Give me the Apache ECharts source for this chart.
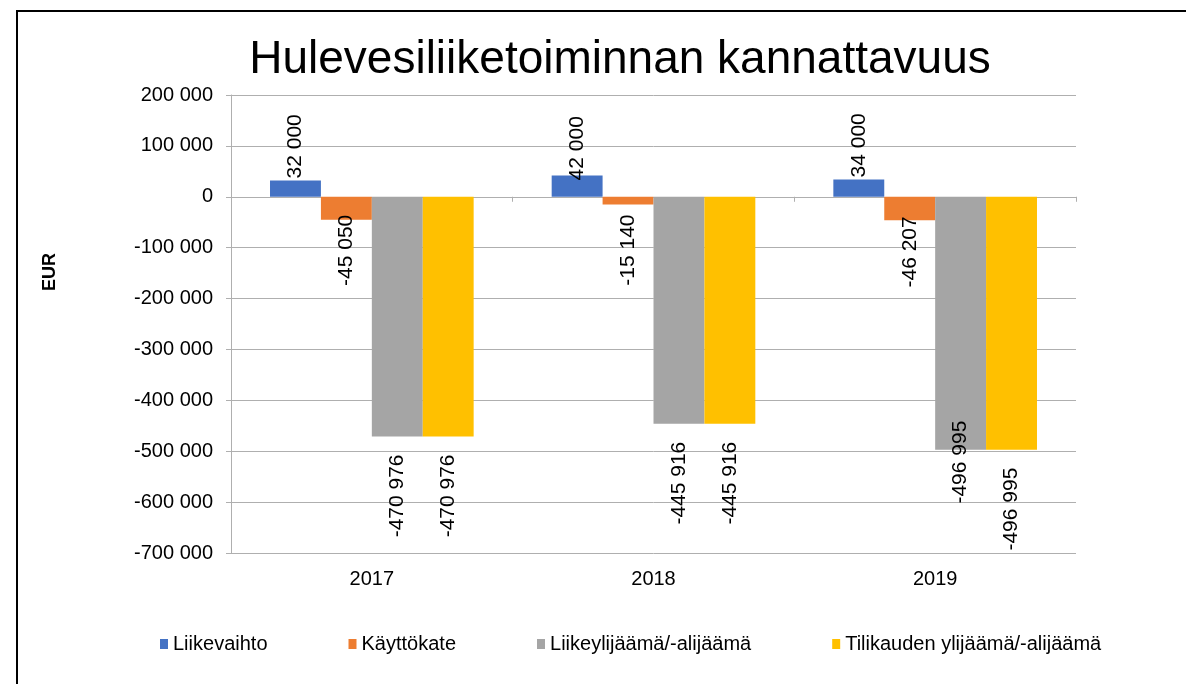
<!DOCTYPE html>
<html>
<head>
<meta charset="utf-8">
<script src="https://cdn.jsdelivr.net/npm/echarts@6/dist/echarts.min.js"></script>
<style>
    body { margin: 0; background: #fff; overflow: hidden; }
    #chart { position: absolute; left: 0; top: 0; width: 1186px; height: 684px; }
    #frame { position: absolute; left: 16px; top: 10px; width: 1300px; height: 800px;
             border-top: 2px solid #000; border-left: 2px solid #000; pointer-events: none; }
</style>
</head>
<body>
<div id="chart"></div>
<div id="frame"></div>
<script>
var years = ['2017', '2018', '2019'];
var seriesNames = ['Liikevaihto', 'Käyttökate', 'Liikeylijäämä/-alijäämä', 'Tilikauden ylijäämä/-alijäämä'];
var liikevaihto = [32000, 42000, 34000];
var kayttokate = [-45050, -15140, -46207];
var liikeylijaama = [-470976, -445916, -496995];
var tilikauden = [-470976, -445916, -496995];
var yMin = -700000;
var yMax = 200000;
var yStep = 100000;

var colors = ['#4472C4', '#ED7D31', '#A5A5A5', '#FFC000'];
// how far each rotated label sits from the bar end (Excel moved some of them around)
var labelNudge = [[2, -5, 2], [-5, 10, -4], [18, 18, -29], [18, 18, 18]];

var font = '"Liberation Sans", Arial, sans-serif';
var gridColor = '#afafaf';

function fmt(v) {
    var s = Math.abs(v).toString().replace(/\B(?=(\d{3})+(?!\d))/g, ' ');
    return (v < 0 ? '-' : '') + s;
}

function buildSeries(name, values, idx) {
    var data = values.map(function (v, i) {
        var up = v >= 0;
        return {
            value: v,
            label: {
                position: up ? 'top' : 'bottom',
                align: up ? 'left' : 'right',
                distance: labelNudge[idx][i]
            }
        };
    });
    return {
        name: name,
        type: 'bar',
        xAxisIndex: 0,
        barGap: '0%',
        barCategoryGap: '27.7%',
        itemStyle: { color: colors[idx] },
        label: {
            show: true,
            rotate: 90,
            verticalAlign: 'middle',
            fontFamily: font,
            fontSize: 21,
            color: '#000',
            formatter: function (p) { return fmt(p.value); }
        },
        data: data
    };
}

var chart = echarts.init(document.getElementById('chart'));

var option = {
    animation: false,
    title: {
        text: 'Hulevesiliiketoiminnan kannattavuus',
        left: 615,
        textAlign: 'center',
        top: 32,
        textStyle: { fontFamily: font, fontSize: 46, fontWeight: 'normal', color: '#000' }
    },
    legend: {
        data: seriesNames,
        left: 155,
        top: 629,
        icon: 'rect',
        itemWidth: 8,
        itemHeight: 10,
        itemGap: 81,
        textStyle: { fontFamily: font, fontSize: 20, color: '#000' }
    },
    grid: { left: 231, right: 110, top: 95, bottom: 131 },
    xAxis: [{
        type: 'category',
        data: years,
        axisLine: { onZero: true, lineStyle: { color: gridColor } },
        axisTick: { show: true, length: 5, lineStyle: { color: gridColor } },
        axisLabel: { show: false },
        splitLine: { show: false }
    }, {
        type: 'category',
        data: years,
        position: 'bottom',
        axisLine: { show: false, onZero: false },
        axisTick: { show: false },
        axisLabel: { margin: 16, fontFamily: font, fontSize: 20, color: '#000' },
        splitLine: { show: false }
    }],
    yAxis: {
        type: 'value',
        min: yMin,
        max: yMax,
        interval: yStep,
        axisLine: { show: true, lineStyle: { color: gridColor } },
        axisTick: { show: true, length: 5, lineStyle: { color: gridColor } },
        splitLine: { lineStyle: { color: gridColor } },
        axisLabel: { margin: 18, fontFamily: font, fontSize: 20, color: '#000', formatter: fmt }
    },
    graphic: [{
        type: 'text',
        x: 50,
        y: 272,
        rotation: Math.PI / 2,
        style: { text: 'EUR', align: 'center', verticalAlign: 'middle',
                 font: 'bold 18px "Liberation Sans", Arial, sans-serif', fill: '#000' }
    }],
    series: [
        buildSeries(seriesNames[0], liikevaihto, 0),
        buildSeries(seriesNames[1], kayttokate, 1),
        buildSeries(seriesNames[2], liikeylijaama, 2),
        buildSeries(seriesNames[3], tilikauden, 3)
    ]
};

chart.setOption(option);
</script>
</body>
</html>
